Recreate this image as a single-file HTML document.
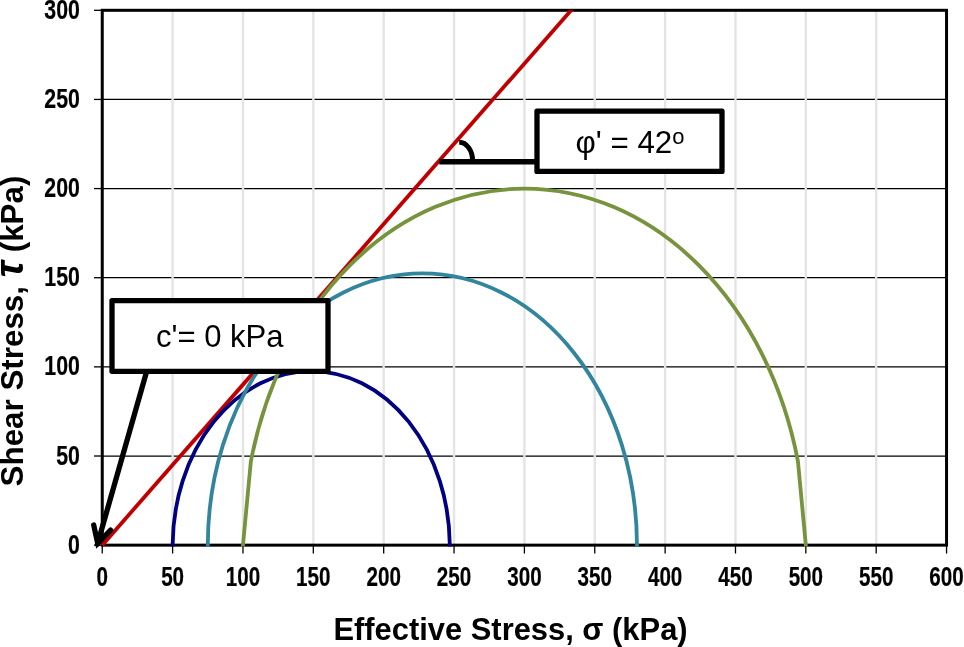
<!DOCTYPE html>
<html lang="en"><head><meta charset="utf-8"><title>Mohr circles</title>
<style>html,body{margin:0;padding:0;background:#fff}svg{display:block}text{font-family:"Liberation Sans",sans-serif;fill:#000}.tk{font-weight:bold;font-size:27.5px;stroke:#000;stroke-width:.22px}.ttl{font-weight:bold;font-size:30.9px}.bx{font-size:31.3px}</style></head><body>
<svg width="964" height="647" viewBox="0 0 964 647">
<rect width="964" height="647" fill="#fff"/>
<g stroke="#000" stroke-width="1.25">
<line x1="102.25" y1="456.01" x2="946.55" y2="456.01"/>
<line x1="102.25" y1="366.87" x2="946.55" y2="366.87"/>
<line x1="102.25" y1="277.72" x2="946.55" y2="277.72"/>
<line x1="102.25" y1="188.58" x2="946.55" y2="188.58"/>
<line x1="102.25" y1="99.44" x2="946.55" y2="99.44"/>
</g>
<g stroke="#e4e4e4" stroke-width="2.4">
<line x1="172.61" y1="10.3" x2="172.61" y2="545.15"/>
<line x1="242.97" y1="10.3" x2="242.97" y2="545.15"/>
<line x1="313.32" y1="10.3" x2="313.32" y2="545.15"/>
<line x1="383.68" y1="10.3" x2="383.68" y2="545.15"/>
<line x1="454.04" y1="10.3" x2="454.04" y2="545.15"/>
<line x1="524.4" y1="10.3" x2="524.4" y2="545.15"/>
<line x1="594.76" y1="10.3" x2="594.76" y2="545.15"/>
<line x1="665.12" y1="10.3" x2="665.12" y2="545.15"/>
<line x1="735.48" y1="10.3" x2="735.48" y2="545.15"/>
<line x1="805.83" y1="10.3" x2="805.83" y2="545.15"/>
<line x1="876.19" y1="10.3" x2="876.19" y2="545.15"/>
</g>
<g stroke="#000" stroke-width="1.3">
<line x1="94" y1="545.15" x2="102.25" y2="545.15"/>
<line x1="94" y1="456.01" x2="102.25" y2="456.01"/>
<line x1="94" y1="366.87" x2="102.25" y2="366.87"/>
<line x1="94" y1="277.72" x2="102.25" y2="277.72"/>
<line x1="94" y1="188.58" x2="102.25" y2="188.58"/>
<line x1="94" y1="99.44" x2="102.25" y2="99.44"/>
<line x1="94" y1="10.3" x2="102.25" y2="10.3"/>
<line x1="102.25" y1="545.15" x2="102.25" y2="553.5"/>
<line x1="172.61" y1="545.15" x2="172.61" y2="553.5"/>
<line x1="242.97" y1="545.15" x2="242.97" y2="553.5"/>
<line x1="313.32" y1="545.15" x2="313.32" y2="553.5"/>
<line x1="383.68" y1="545.15" x2="383.68" y2="553.5"/>
<line x1="454.04" y1="545.15" x2="454.04" y2="553.5"/>
<line x1="524.4" y1="545.15" x2="524.4" y2="553.5"/>
<line x1="594.76" y1="545.15" x2="594.76" y2="553.5"/>
<line x1="665.12" y1="545.15" x2="665.12" y2="553.5"/>
<line x1="735.48" y1="545.15" x2="735.48" y2="553.5"/>
<line x1="805.83" y1="545.15" x2="805.83" y2="553.5"/>
<line x1="876.19" y1="545.15" x2="876.19" y2="553.5"/>
<line x1="946.55" y1="545.15" x2="946.55" y2="553.5"/>
</g>
<rect x="102.25" y="10.3" width="844.3" height="534.85" fill="none" stroke="#000" stroke-width="3"/>
<clipPath id="pc"><rect x="96.25" y="10.3" width="856.3" height="540.85"/></clipPath>
<line x1="102.25" y1="545.15" x2="586.72" y2="-7.53" stroke="#c00000" stroke-width="3.8" clip-path="url(#pc)"/>
<path d="M172.61 546.45 L172.61 545.15 A138.61 175.61 0 0 1 449.82 545.15 L449.82 546.45" fill="none" stroke="#000080" stroke-width="3.8" stroke-linejoin="round"/>
<path d="M207.79 546.45 L207.79 545.15 A214.59 271.88 0 0 1 636.97 545.15 L636.97 546.45" fill="none" stroke="#31859c" stroke-width="3.8" stroke-linejoin="round"/>
<path d="M242.97 546.45 L242.97 545.15 L250.85 461.36 A281.43 356.57 0 0 1 797.95 461.36 L805.83 545.15 L805.83 546.45" fill="none" stroke="#77933c" stroke-width="3.8" stroke-linejoin="round"/>
<line x1="439.3" y1="161.7" x2="537" y2="161.7" stroke="#000" stroke-width="5.6"/>
<path d="M459.2 142.2 A13.4 18.5 0 0 1 472.6 160.7" fill="none" stroke="#000" stroke-width="5"/>
<rect x="537" y="111.2" width="185" height="60.2" fill="#fff" stroke="#000" stroke-width="5.3" stroke-linejoin="round"/>
<text class="bx" x="575.5" y="152.8">φ' = 42<tspan font-size="22px" dy="-8.4">o</tspan></text>
<g fill="none" stroke="#000" stroke-width="5.3" stroke-linecap="round" stroke-linejoin="round">
<path d="M146.5 372 L97.5 544"/>
<path d="M93.7 525 L97.7 543.3 L110.6 530.1" stroke-linejoin="miter" stroke-miterlimit="10"/>
</g>
<rect x="112" y="300.7" width="216" height="70.6" fill="#fff" stroke="#000" stroke-width="5.3" stroke-linejoin="round"/>
<text class="bx" style="font-size:31.05px" x="156" y="346.8">c'= 0 kPa</text>
<text class="tk" text-anchor="end" transform="translate(79.9 553.65) scale(0.775 1)">0</text>
<text class="tk" text-anchor="end" transform="translate(79.9 464.51) scale(0.775 1)">50</text>
<text class="tk" text-anchor="end" transform="translate(79.9 375.37) scale(0.775 1)">100</text>
<text class="tk" text-anchor="end" transform="translate(79.9 286.22) scale(0.775 1)">150</text>
<text class="tk" text-anchor="end" transform="translate(79.9 197.08) scale(0.775 1)">200</text>
<text class="tk" text-anchor="end" transform="translate(79.9 107.94) scale(0.775 1)">250</text>
<text class="tk" text-anchor="end" transform="translate(79.9 18.8) scale(0.775 1)">300</text>
<text class="tk" text-anchor="middle" transform="translate(102.25 586.3) scale(0.75 1)">0</text>
<text class="tk" text-anchor="middle" transform="translate(172.61 586.3) scale(0.75 1)">50</text>
<text class="tk" text-anchor="middle" transform="translate(242.97 586.3) scale(0.75 1)">100</text>
<text class="tk" text-anchor="middle" transform="translate(313.32 586.3) scale(0.75 1)">150</text>
<text class="tk" text-anchor="middle" transform="translate(383.68 586.3) scale(0.75 1)">200</text>
<text class="tk" text-anchor="middle" transform="translate(454.04 586.3) scale(0.75 1)">250</text>
<text class="tk" text-anchor="middle" transform="translate(524.4 586.3) scale(0.75 1)">300</text>
<text class="tk" text-anchor="middle" transform="translate(594.76 586.3) scale(0.75 1)">350</text>
<text class="tk" text-anchor="middle" transform="translate(665.12 586.3) scale(0.75 1)">400</text>
<text class="tk" text-anchor="middle" transform="translate(735.48 586.3) scale(0.75 1)">450</text>
<text class="tk" text-anchor="middle" transform="translate(805.83 586.3) scale(0.75 1)">500</text>
<text class="tk" text-anchor="middle" transform="translate(876.19 586.3) scale(0.75 1)">550</text>
<text class="tk" text-anchor="middle" transform="translate(946.55 586.3) scale(0.75 1)">600</text>
<text class="ttl" x="510.5" y="640.4" text-anchor="middle">Effective Stress, σ (kPa)</text>
<text class="ttl" style="font-size:31.35px" text-anchor="middle" transform="translate(23.2 331) rotate(-90)">Shear Stress, <tspan font-style="italic" font-size="40px">τ</tspan><tspan dx="0"> (kPa)</tspan></text>
</svg></body></html>
